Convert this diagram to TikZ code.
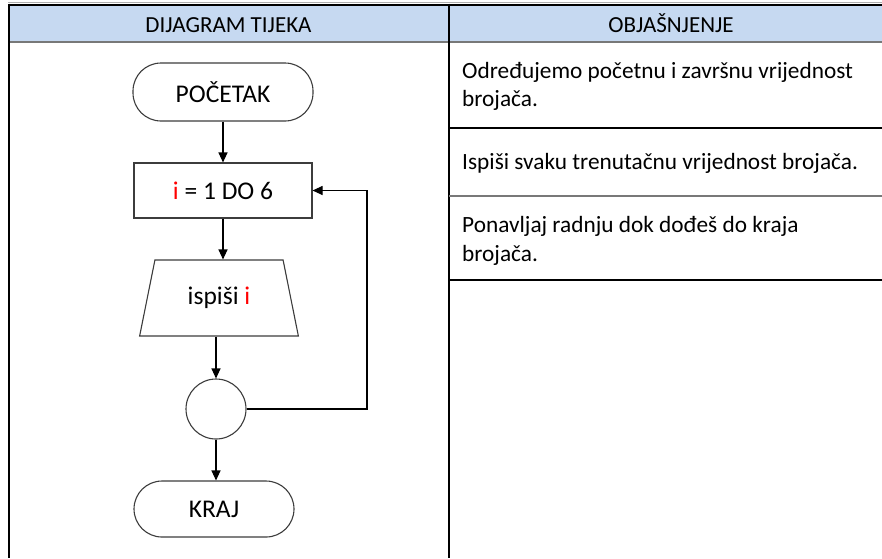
\documentclass[tikz,border=0pt]{standalone}
\usepackage{fontspec}
\setmainfont{Carlito}
\usetikzlibrary{shapes.geometric,arrows.meta}
\definecolor{headblue}{RGB}{198,217,241}
\definecolor{shapeline}{RGB}{60,60,60}
\definecolor{rulegray}{RGB}{120,120,120}
\definecolor{mark}{RGB}{255,0,0}
\newcommand\flowfont{\fontsize{25.5}{30}\selectfont}
\newcommand\headfont{\fontsize{23}{26}\selectfont}
\newcommand\cellfont{\fontsize{23.3}{28.5}\selectfont}
\begin{document}
\begin{tikzpicture}[x=1pt,y=-1pt,
  term/.style={draw=shapeline, line width=1.1pt, rectangle, rounded corners=28pt,
    minimum width=180pt, minimum height=58pt, inner sep=0pt, font=\flowfont},
  procbox/.style={draw=shapeline, line width=1.1pt, rectangle,
    minimum width=178pt, minimum height=55pt, inner sep=0pt, font=\flowfont},
  iobox/.style={draw=shapeline, line width=1.1pt, trapezium,
    trapezium left angle=71, trapezium right angle=71, trapezium stretches=true,
    minimum width=159pt, minimum height=76pt, inner sep=0pt, font=\flowfont},
  joint/.style={draw=shapeline, line width=1.1pt, circle, minimum size=60pt, inner sep=0pt},
  flow/.style={-{Triangle[length=10pt,width=9pt]}, line width=1.1pt},
  cell/.style={anchor=base west, inner sep=0pt, align=left, font=\cellfont},
  head/.style={anchor=base, inner sep=0pt, font=\headfont},
  thick rule/.style={line width=2pt, black},
  thin rule/.style={line width=1.2pt, rulegray}]
\useasboundingbox (0,0) rectangle (882,558);

% table header
\fill[headblue] (8,5) rectangle (882,42);
\draw[line width=1pt, rulegray!60] (8,2.5) -- (882,2.5);
\draw[thick rule] (8,4.5) -- (882,4.5);
\draw[line width=1.5pt, rulegray] (8,42) -- (882,42);
\node[head] (h1) at (228.5,32) {DIJAGRAM TIJEKA};
\node[head] (h2) at (671,32) {OBJAŠNJENJE};

% column borders
\draw[thick rule] (8.5,3.5) -- (8.5,558);
\draw[line width=2.5pt] (449,3.5) -- (449,558);

% row separators of the right column
\draw[thick rule] (449,128) -- (882,128);
\draw[thin rule] (449,196) -- (882,196);
\draw[thick rule] (449,280) -- (882,280);

% explanations (base anchor sits on the last line)
\node[cell] (e1) at (462,106.7) {Određujemo početnu i završnu vrijednost\\brojača.};
\node[cell] (e2) at (462,169) {Ispiši svaku trenutačnu vrijednost brojača.};
\node[cell] (e3) at (462,261) {Ponavljaj radnju dok dođeš do kraja\\brojača.};

% flowchart
\node[term] (start) at (223,92) {POČETAK};
\node[procbox] (loop) at (223,190.5) {\textcolor{mark}{i} = 1 DO 6};
\node[iobox] (out) at (219,298) {ispiši \textcolor{mark}{i}};
\node[joint] (join) at (216,409) {};
\node[term, minimum width=160pt, minimum height=56pt] (stop) at (214,509) {KRAJ};
\coordinate (back) at (367,409);

\draw[flow] (start.south) -- (start.south |- loop.north);
\draw[flow] (loop.south) -- (loop.south |- out.north);
\draw[flow] (join.north |- out.south) -- (join.north);
\draw[flow] (join.south) -- (join.south |- stop.north);
\draw[flow] (join.east) -- (back) |- (loop.east);
\end{tikzpicture}
\end{document}
